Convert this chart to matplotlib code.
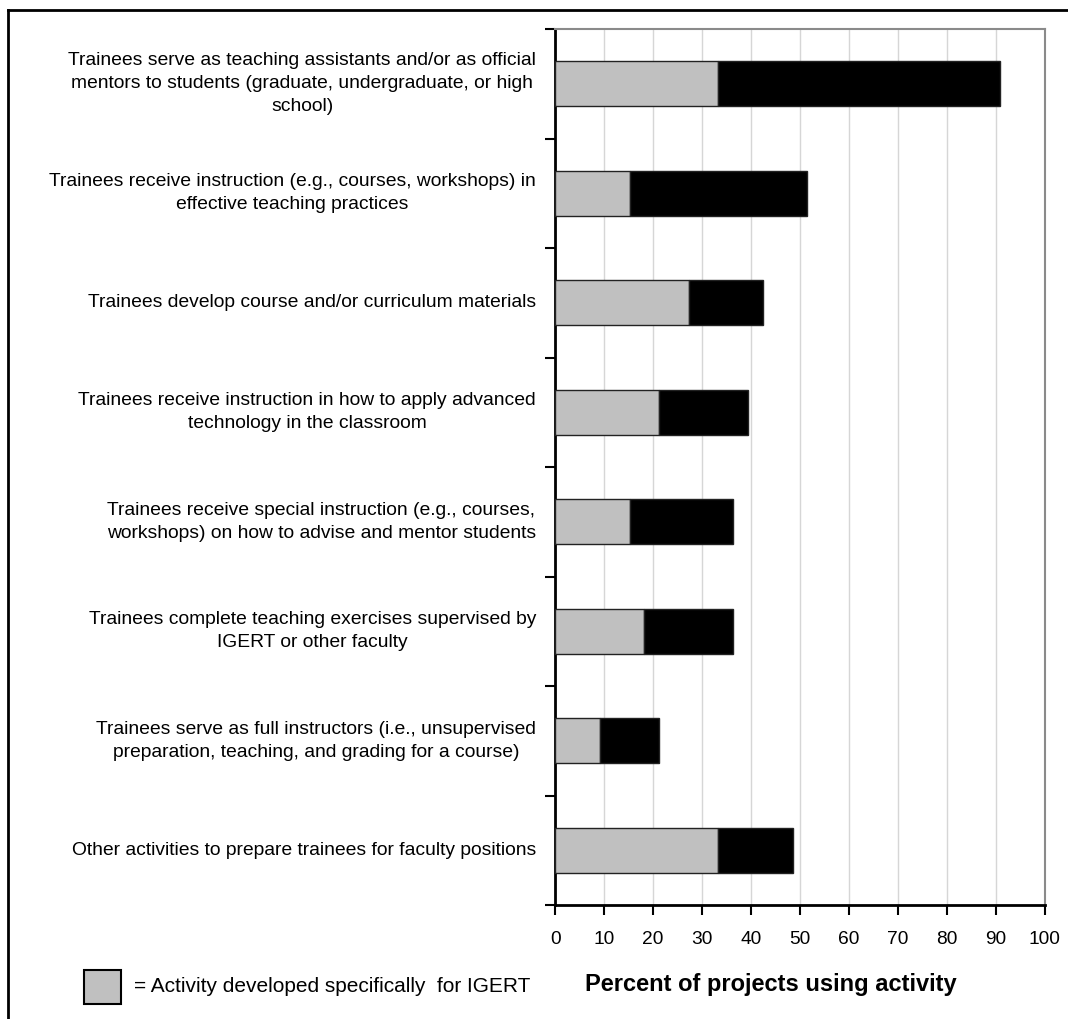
import matplotlib
matplotlib.use("Agg")
import matplotlib.pyplot as plt
from matplotlib.transforms import blended_transform_factory
from matplotlib.lines import Line2D
from matplotlib.patches import Rectangle

# Faculty-preparation activities, top to bottom
activities = [
    "Trainees serve as teaching assistants and/or as official\nmentors to students (graduate, undergraduate, or high\nschool)",
    "Trainees receive instruction (e.g., courses, workshops) in\neffective teaching practices",
    "Trainees develop course and/or curriculum materials",
    "Trainees receive instruction in how to apply advanced\ntechnology in the classroom",
    "Trainees receive special instruction (e.g., courses,\nworkshops) on how to advise and mentor students",
    "Trainees complete teaching exercises supervised by\nIGERT or other faculty",
    "Trainees serve as full instructors (i.e., unsupervised\npreparation, teaching, and grading for a course)",
    "Other activities to prepare trainees for faculty positions",
]
# Percent of projects: activity developed specifically for IGERT
igert_specific = [33.3, 15.2, 27.3, 21.2, 15.2, 18.2, 9.1, 33.3]
# Percent of projects using the activity at all
total_using = [90.9, 51.5, 42.4, 39.4, 36.4, 36.4, 21.2, 48.5]
x_ticks = [0, 10, 20, 30, 40, 50, 60, 70, 80, 90, 100]

plt.rcParams["font.family"] = ["Liberation Sans", "DejaVu Sans"]

W, H = 1068, 1019
fig = plt.figure(figsize=(W / 100, H / 100), dpi=100)
ax = fig.add_axes([555.3 / W, 114 / H, 489.2 / W, 876 / H])

n = len(activities)
pos = list(range(n))
other = [t - g for t, g in zip(total_using, igert_specific)]

ax.barh(pos, igert_specific, height=0.41, color="#c0c0c0",
        edgecolor="#222222", linewidth=1, zorder=3)
ax.barh(pos, other, left=igert_specific, height=0.41, color="black",
        edgecolor="#222222", linewidth=1, zorder=3)

ax.set_xlim(0, 100)
ax.set_ylim(n - 0.5, -0.5)
ax.set_xticks(x_ticks)
ax.set_xticklabels([str(t) for t in x_ticks], fontsize=13.8)
ax.set_yticks([i - 0.5 for i in range(n + 1)])
ax.set_yticklabels([])
ax.tick_params(axis="y", direction="out", length=7, width=1.5, color="black")
ax.tick_params(axis="x", direction="out", length=7, width=1.5, color="black", pad=12)

ax.xaxis.grid(True, color="#d6d6d6", linewidth=1)
ax.set_axisbelow(True)

for side in ("left", "bottom"):
    ax.spines[side].set_color("black")
    ax.spines[side].set_linewidth(2)
for side in ("top", "right"):
    ax.spines[side].set_color("#8a8a8a")
    ax.spines[side].set_linewidth(1.5)

# Category labels: right-aligned blocks, lines centred within each block
trans = blended_transform_factory(fig.transFigure, ax.transData)
for i, label in enumerate(activities):
    fig.text(536 / W, i, label, transform=trans, ha="right", va="center",
             multialignment="center", fontsize=13.9, linespacing=1.45)

# Axis title
fig.text(771 / W, 1 - 985 / H, "Percent of projects using activity",
         ha="center", va="center", fontsize=17, fontweight="bold")

# Legend key
fig.patches.append(Rectangle((84 / W, 1 - 1004 / H), 37 / W, 34 / H,
                             transform=fig.transFigure, facecolor="#c0c0c0",
                             edgecolor="black", linewidth=1.5))
fig.text(134 / W, 1 - 986 / H, "= Activity developed specifically  for IGERT",
         ha="left", va="center", fontsize=15)

# Outer frame
fig.lines.append(Line2D([8 / W, 8 / W], [0, 1 - 10 / H], transform=fig.transFigure,
                        color="black", linewidth=2))
fig.lines.append(Line2D([8 / W, 1], [1 - 10 / H, 1 - 10 / H], transform=fig.transFigure,
                        color="black", linewidth=2))

fig.savefig("out.png", dpi=100, facecolor="white")
